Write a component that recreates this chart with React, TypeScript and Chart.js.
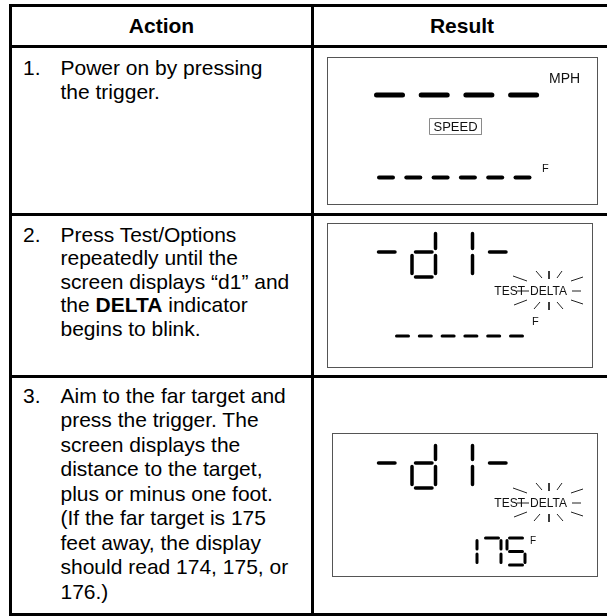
import React, { useEffect, useRef } from "react";
import { Chart, registerables } from "chart.js";

Chart.register(...registerables);

const FONT = '"Liberation Sans", Arial, Helvetica, sans-serif';

// ---------------- data ----------------
const COLUMN_HEADERS = ["Action", "Result"];
const STEP_NUMBERS = ["1.", "2.", "3."];
const STEP1_LINES = ["Power on by pressing", "the trigger."];
const STEP2_LINES = [
  "Press Test/Options",
  "repeatedly until the",
  "screen displays \u201Cd1\u201D and",
  "the **DELTA** indicator",
  "begins to blink.",
];
const STEP3_LINES = [
  "Aim to the far target and",
  "press the trigger. The",
  "screen displays the",
  "distance to the target,",
  "plus or minus one foot.",
  "(If the far target is 175",
  "feet away, the display",
  "should read 174, 175, or",
  "176.)",
];
const MAIN_READINGS = ["----", "-d1-", "-d1-"];
const SUB_READINGS = ["------", "------", "175"];
const SPEED_UNIT = "MPH";
const DISTANCE_UNIT = "F";
const MODE_LABEL = "SPEED";
const TEST_LABEL = "TEST";
const DELTA_LABEL = "DELTA";
// blink rays around the DELTA indicator: [dx1, dy1, dx2, dy2] from its centre
const BLINK_RAYS = [
  [-36, -15, -22, -10],
  [-13, -20, -7, -13],
  [0, -20, 0, -12],
  [8, -13, 13, -20],
  [22, -10, 34, -14],
  [-32, 0, -20, 0],
  [23, 0, 32, 0],
  [-35, 14, -22, 9],
  [-15, 18, -9, 11],
  [0, 11, 0, 19],
  [8, 11, 14, 18],
  [22, 9, 34, 13],
];
const SEGMENTS_BY_CHAR: Record<string, string[]> = {
  "-": ["g"],
  d: ["b", "c", "d", "e", "g"],
  "1": ["b", "c"],
  "7": ["a", "b", "c"],
  "5": ["a", "f", "g", "c", "d"],
};

// ---------------- helpers ----------------
function segmentLines(ch: string, L: number, R: number, T: number, M: number, B: number, gap: number) {
  const segs = SEGMENTS_BY_CHAR[ch] || [];
  const map: Record<string, number[]> = {
    a: [L + gap, T, R - gap, T],
    b: [R, T + gap, R, M - gap],
    c: [R, M + gap, R, B - gap],
    d: [L + gap, B, R - gap, B],
    e: [L, M + gap, L, B - gap],
    f: [L, T + gap, L, M - gap],
    g: [L + gap, M, R - gap, M],
  };
  return segs.map((s) => map[s]);
}

function lineDataset(pts: { x: number; y: number }[], color: string, width: number, cap = "round") {
  return {
    data: pts,
    showLine: true,
    borderColor: color,
    backgroundColor: color,
    borderWidth: width,
    borderCapStyle: cap,
    borderJoinStyle: "round",
    pointRadius: 0,
    pointHoverRadius: 0,
    fill: false,
    tension: 0,
    clip: false,
  };
}

function readoutDatasets(d: any) {
  const out: any[] = [];
  const chars = d.text.split("");
  chars.forEach((ch: string, i: number) => {
    const L = d.x0 + d.pitch * i;
    const R = L + d.w;
    segmentLines(ch, L, R, d.T, d.M, d.B, d.gap).forEach((s) => {
      out.push(lineDataset([{ x: s[0], y: s[1] }, { x: s[2], y: s[3] }], "#000", d.lw));
    });
  });
  return out;
}

// ---------------- panels ----------------
const PANELS = [
  {
    box: { x: 327, y: 57, w: 271, h: 148 },
    main: { text: MAIN_READINGS[0], x0: 47, pitch: 44.7, w: 31, T: 18, M: 38, B: 58, lw: 5, gap: 2.5 },
    sub: { text: SUB_READINGS[0], x0: 50, pitch: 27.3, w: 18, T: 100, M: 120.5, B: 140, lw: 4, gap: 2 },
    frame: { x0: 102.5, x1: 154.5, y0: 61.5, y1: 77.5 },
    labels: [
      { text: SPEED_UNIT, x: 222, y: 26, size: 14, align: "left" },
      { text: MODE_LABEL, x: 128.5, y: 74, size: 13, align: "center" },
      { text: DISTANCE_UNIT, x: 215, y: 115, size: 11, align: "left" },
    ],
    indicator: null as any,
  },
  {
    box: { x: 327, y: 223, w: 266, h: 145 },
    main: { text: MAIN_READINGS[1], x0: 48, pitch: 37, w: 23.5, T: 7, M: 29, B: 54, lw: 3.5, gap: 3.5 },
    sub: { text: SUB_READINGS[1], x0: 68, pitch: 22.8, w: 15, T: 95, M: 113, B: 130, lw: 3, gap: 1.5 },
    frame: null as any,
    labels: [{ text: DISTANCE_UNIT, x: 205, y: 102, size: 11, align: "left" }],
    indicator: { cx: 222, cy: 68 },
  },
  {
    box: { x: 332, y: 433, w: 266, h: 144 },
    main: { text: MAIN_READINGS[2], x0: 43, pitch: 37, w: 23.5, T: 9, M: 30, B: 55, lw: 3.5, gap: 3.5 },
    sub: { text: SUB_READINGS[2], x0: 127, pitch: 24, w: 18, T: 105, M: 118.5, B: 132, lw: 3, gap: 2.5 },
    frame: null as any,
    labels: [{ text: DISTANCE_UNIT, x: 198, y: 111, size: 10, align: "left" }],
    indicator: { cx: 217, cy: 70 },
  },
];

function LcdPanel({ spec }: { spec: any }) {
  const ref = useRef<HTMLCanvasElement | null>(null);
  const cw = spec.box.w - 2;
  const ch = spec.box.h - 2;
  useEffect(() => {
    if (!ref.current) return;
    const datasets: any[] = [...readoutDatasets(spec.main), ...readoutDatasets(spec.sub)];
    const labels: any[] = [...spec.labels];
    if (spec.frame) {
      const f = spec.frame;
      datasets.push(
        lineDataset(
          [
            { x: f.x0, y: f.y0 },
            { x: f.x1, y: f.y0 },
            { x: f.x1, y: f.y1 },
            { x: f.x0, y: f.y1 },
            { x: f.x0, y: f.y0 },
          ],
          "#8a8a8a",
          1,
          "butt"
        )
      );
    }
    if (spec.indicator) {
      const { cx, cy } = spec.indicator;
      BLINK_RAYS.forEach((r) => {
        datasets.push(lineDataset([{ x: cx + r[0], y: cy + r[1] }, { x: cx + r[2], y: cy + r[3] }], "#222", 1, "butt"));
      });
      labels.push({ text: TEST_LABEL, x: cx - 24, y: cy + 4.3, size: 12, align: "right" });
      labels.push({ text: DELTA_LABEL, x: cx - 19, y: cy + 4.3, size: 12, align: "left" });
    }
    const textPlugin = {
      id: "lcdText",
      afterDatasetsDraw(chart: any) {
        const { ctx, scales } = chart;
        ctx.save();
        labels.forEach((t) => {
          ctx.font = `${t.size}px ${FONT}`;
          ctx.fillStyle = "#111";
          ctx.textAlign = t.align;
          ctx.textBaseline = "alphabetic";
          ctx.fillText(t.text, scales.x.getPixelForValue(t.x), scales.y.getPixelForValue(t.y));
        });
        ctx.restore();
      },
    };
    const chart = new Chart(ref.current, {
      type: "scatter",
      data: { datasets },
      options: {
        animation: false,
        responsive: false,
        maintainAspectRatio: false,
        events: [],
        layout: { padding: 0 },
        plugins: { legend: { display: false }, tooltip: { enabled: false }, title: { display: false } },
        scales: {
          x: { type: "linear", min: 1, max: 1 + cw, display: false },
          y: { type: "linear", min: 1, max: 1 + ch, reverse: true, display: false },
        },
      } as any,
      plugins: [textPlugin],
    } as any);
    return () => chart.destroy();
  }, []);
  return (
    <div
      style={{
        position: "absolute",
        left: spec.box.x,
        top: spec.box.y,
        width: spec.box.w,
        height: spec.box.h,
        border: "1px solid #555",
        boxSizing: "border-box",
        background: "#fff",
      }}
    >
      <canvas ref={ref} width={cw} height={ch} style={{ display: "block", width: cw, height: ch }} />
    </div>
  );
}

function TextLine({ text, top, left }: { text: string; top: number; left: number }) {
  const parts = text.split("**");
  return (
    <div style={{ position: "absolute", left, top, height: 24, lineHeight: "24px", whiteSpace: "nowrap" }}>
      {parts.map((p, i) => (i % 2 ? <b key={i}>{p}</b> : <span key={i}>{p}</span>))}
    </div>
  );
}

const ROWS = [
  { num: STEP_NUMBERS[0], lines: STEP1_LINES, baseline: 75, lh: 24 },
  { num: STEP_NUMBERS[1], lines: STEP2_LINES, baseline: 242, lh: 23.5 },
  { num: STEP_NUMBERS[2], lines: STEP3_LINES, baseline: 403, lh: 24.5 },
];

const BASE_OFF = 19.3;

export default function App() {
  const hLines = [4, 45, 213, 375, 613];
  const vLines = [9, 311];
  return (
    <div
      style={{
        position: "absolute",
        left: 0,
        top: 0,
        width: 607,
        height: 616,
        overflow: "hidden",
        background: "#fff",
        fontFamily: FONT,
        fontSize: 21,
        color: "#000",
      }}
    >
      {hLines.map((y, i) => (
        <div key={"h" + i} style={{ position: "absolute", left: 9, top: y, width: 610, height: 3, background: "#000" }} />
      ))}
      {vLines.map((x, i) => (
        <div key={"v" + i} style={{ position: "absolute", left: x, top: 4, width: 3, height: 620, background: "#000" }} />
      ))}
      <div style={{ position: "absolute", left: 12, width: 299, top: 33 - BASE_OFF, lineHeight: "24px", textAlign: "center", fontWeight: "bold" }}>
        {COLUMN_HEADERS[0]}
      </div>
      <div style={{ position: "absolute", left: 314, width: 296, top: 33 - BASE_OFF, lineHeight: "24px", textAlign: "center", fontWeight: "bold" }}>
        {COLUMN_HEADERS[1]}
      </div>
      {ROWS.map((r, ri) => (
        <React.Fragment key={"r" + ri}>
          <TextLine text={r.num} top={r.baseline - BASE_OFF} left={23} />
          {r.lines.map((ln, li) => (
            <TextLine key={li} text={ln} top={r.baseline + li * r.lh - BASE_OFF} left={60.5} />
          ))}
        </React.Fragment>
      ))}
      {PANELS.map((p, i) => (
        <LcdPanel key={i} spec={p} />
      ))}
    </div>
  );
}
